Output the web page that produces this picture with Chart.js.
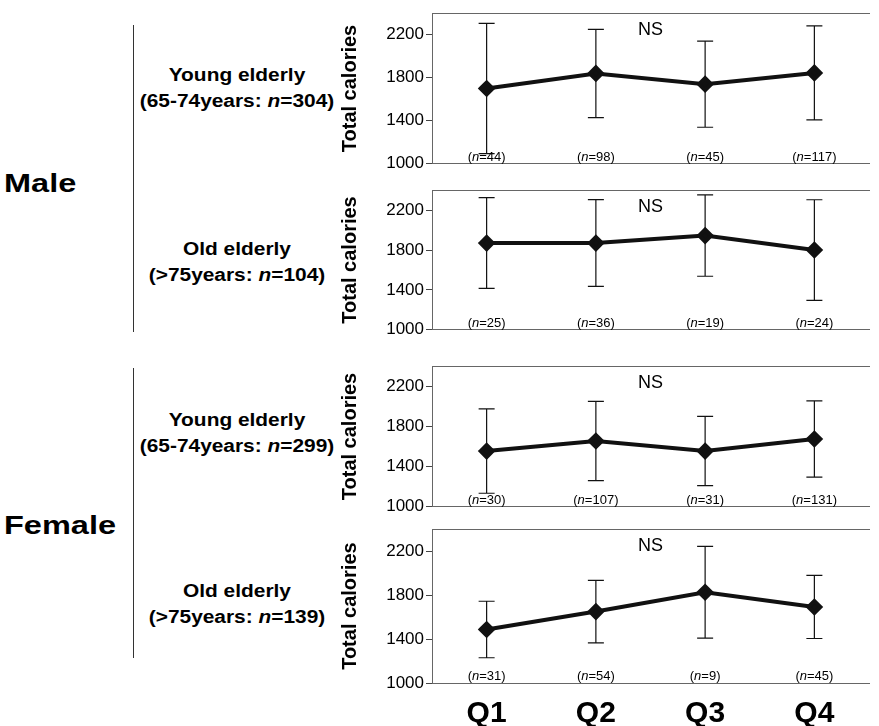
<!DOCTYPE html>
<html>
<head>
<meta charset="utf-8">
<script src="https://cdn.jsdelivr.net/npm/chart.js@4.4.0/dist/chart.umd.min.js"></script>
<style>
  body { margin: 0; background: #fff; width: 879px; height: 726px; position: relative; overflow: hidden;
         font-family: "Liberation Sans", Arial, sans-serif; color: #000; }
  canvas { position: absolute; left: 334px; }
  .sex { position: absolute; left: 4px; font-weight: bold; font-size: 25px; line-height: 30px;
         transform-origin: 0 50%; transform: scaleX(1.3); white-space: nowrap; }
  .grp { position: absolute; left: 117px; width: 240px; text-align: center; font-weight: bold;
         font-size: 18px; line-height: 26px; transform: scaleX(1.16); white-space: nowrap; }
  .vline { position: absolute; left: 133px; width: 1px; background: #333; }
</style>
</head>
<body>
<div class="sex" style="top:168px">Male</div>
<div class="sex" style="top:510px">Female</div>
<div class="vline" style="top:25px;height:307px"></div>
<div class="vline" style="top:368px;height:290px"></div>
<div class="grp" style="top:62px">Young elderly<br>(65-74years: <i>n</i>=304)</div>
<div class="grp" style="top:236px">Old elderly<br>(&gt;75years: <i>n</i>=104)</div>
<div class="grp" style="top:407px">Young elderly<br>(65-74years: <i>n</i>=299)</div>
<div class="grp" style="top:578px">Old elderly<br>(&gt;75years: <i>n</i>=139)</div>

<canvas id="p1" width="545" height="175" style="top:1px"></canvas>
<canvas id="p2" width="545" height="164" style="top:178px"></canvas>
<canvas id="p3" width="545" height="165" style="top:354px"></canvas>
<canvas id="p4" width="545" height="209" style="top:517px"></canvas>

<script>
const quarters = ['Q1', 'Q2', 'Q3', 'Q4'];
const yTicks = [1000, 1400, 1800, 2200];

// male, young elderly
const maleYoungMean = [1700, 1840, 1740, 1845];
const maleYoungSd = [605, 410, 400, 437];
const maleYoungN = [44, 98, 45, 117];
// male, old elderly
const maleOldMean = [1870, 1870, 1945, 1800];
const maleOldSd = [455, 435, 408, 504];
const maleOldN = [25, 36, 19, 24];
// female, young elderly
const femaleYoungMean = [1555, 1655, 1555, 1675];
const femaleYoungSd = [420, 395, 345, 380];
const femaleYoungN = [30, 107, 31, 131];
// female, old elderly
const femaleOldMean = [1487, 1650, 1826, 1692];
const femaleOldSd = [257, 285, 418, 287];
const femaleOldN = [31, 54, 9, 45];

const FONT = '"Liberation Sans", Arial, sans-serif';
const borderStyle = { color: '#666', dash: [1, 1], width: 1 };

// error bars drawn from mean +/- sd through the y scale
const errorBars = {
  id: 'errorBars',
  beforeDatasetsDraw(chart, args, opts) {
    const ctx = chart.ctx;
    const y = chart.scales.y;
    const means = chart.data.datasets[0].data;
    const pts = chart.getDatasetMeta(0).data;
    ctx.save();
    ctx.strokeStyle = '#111';
    ctx.lineWidth = 1.2;
    pts.forEach((pt, i) => {
      const top = y.getPixelForValue(means[i] + opts.sd[i]);
      const bot = y.getPixelForValue(means[i] - opts.sd[i]);
      ctx.beginPath();
      ctx.moveTo(pt.x, top); ctx.lineTo(pt.x, bot);
      ctx.moveTo(pt.x - 8, top); ctx.lineTo(pt.x + 8, top);
      ctx.moveTo(pt.x - 8, bot); ctx.lineTo(pt.x + 8, bot);
      ctx.stroke();
    });
    ctx.restore();
  }
};

// "(n=..)" under each quarter and "NS" on top
const panelText = {
  id: 'panelText',
  afterDatasetsDraw(chart, args, opts) {
    const ctx = chart.ctx;
    const x = chart.scales.x;
    const area = chart.chartArea;
    ctx.save();
    ctx.fillStyle = '#000';
    ctx.textBaseline = 'alphabetic';
    opts.n.forEach((n, i) => {
      const cx = x.getPixelForValue(i);
      const by = area.bottom - 3;
      const parts = [['(', 'normal'], ['n', 'italic'], ['=' + n + ')', 'normal']];
      let w = 0;
      parts.forEach(p => { ctx.font = p[1] + ' 13px ' + FONT; w += ctx.measureText(p[0]).width; });
      let px = cx - w / 2;
      ctx.textAlign = 'left';
      parts.forEach(p => {
        ctx.font = p[1] + ' 13px ' + FONT;
        ctx.fillText(p[0], px, by);
        px += ctx.measureText(p[0]).width;
      });
    });
    ctx.font = '18px ' + FONT;
    ctx.textAlign = 'center';
    ctx.textBaseline = 'middle';
    const nsX = (x.getPixelForValue(1) + x.getPixelForValue(2)) / 2;
    ctx.fillText('NS', nsX, area.top + 17);
    ctx.restore();
  }
};

function makePanel(id, means, sd, n, isLast) {
  return new Chart(document.getElementById(id), {
    type: 'line',
    data: {
      labels: quarters,
      datasets: [{
        data: means,
        borderColor: '#111',
        borderWidth: 4,
        pointStyle: 'rectRot',
        pointRadius: 6,
        pointBackgroundColor: '#111',
        pointBorderColor: '#111',
        tension: 0,
        clip: false
      }]
    },
    options: {
      responsive: false,
      animation: false,
      layout: { padding: { top: 10, bottom: isLast ? 0 : 10, left: 0, right: 0 } },
      plugins: {
        legend: { display: false },
        tooltip: { enabled: false },
        errorBars: { sd: sd },
        panelText: { n: n }
      },
      scales: {
        x: {
          type: 'category',
          offset: true,
          ticks: { display: isLast, color: '#000', padding: 13, font: { family: FONT, size: 30, weight: 'bold' } },
          grid: { drawOnChartArea: false, drawTicks: false },
          border: borderStyle,
          afterFit(s) { s.height = isLast ? 43 : 0; }
        },
        xTop: {
          type: 'category',
          position: 'top',
          offset: true,
          ticks: { display: false },
          grid: { drawOnChartArea: false, drawTicks: false },
          border: borderStyle,
          afterFit(s) { s.height = 0; }
        },
        y: {
          min: 1000,
          max: 2400,
          afterBuildTicks(s) { s.ticks = yTicks.map(v => ({ value: v })); },
          afterFit(s) { s.width = 98; },
          ticks: { color: '#000', padding: 2, font: { family: FONT, size: 17 }, callback: v => String(v) },
          grid: { drawOnChartArea: false, tickLength: 6, color: '#444' },
          border: borderStyle,
          title: {
            display: true,
            text: 'Total calories',
            color: '#000',
            padding: { top: 4, bottom: 0 },
            font: { family: FONT, size: 20, weight: 'bold' }
          }
        }
      }
    },
    plugins: [errorBars, panelText]
  });
}

makePanel('p1', maleYoungMean, maleYoungSd, maleYoungN, false);
makePanel('p2', maleOldMean, maleOldSd, maleOldN, false);
makePanel('p3', femaleYoungMean, femaleYoungSd, femaleYoungN, false);
makePanel('p4', femaleOldMean, femaleOldSd, femaleOldN, true);
</script>
</body>
</html>
